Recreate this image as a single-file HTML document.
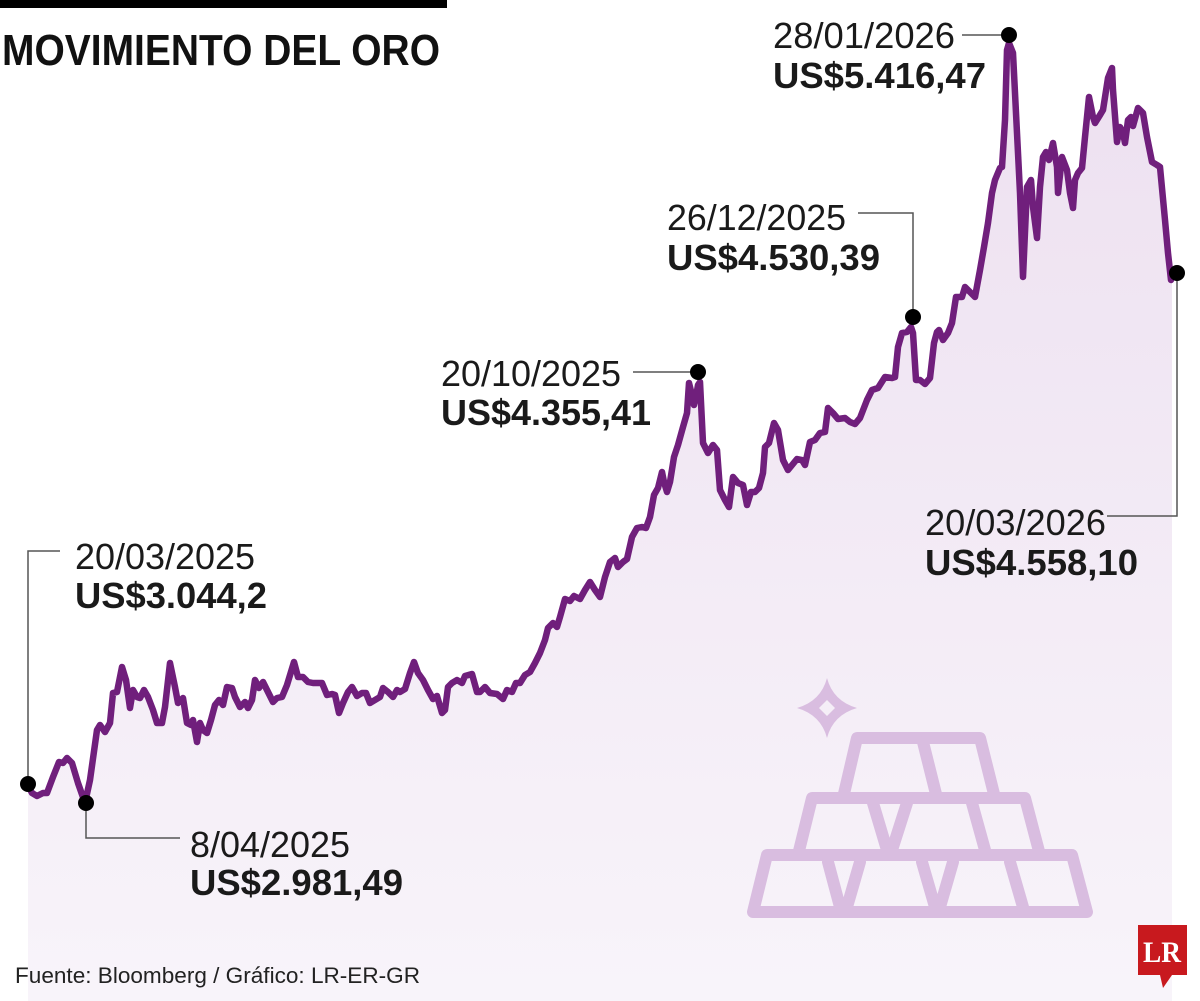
<!DOCTYPE html>
<html><head><meta charset="utf-8"><style>
html,body{margin:0;padding:0;background:#fff;}
svg{display:block;}
text{font-family:"Liberation Sans",sans-serif;}
</style></head><body>
<svg width="1200" height="1001" viewBox="0 0 1200 1001" xmlns="http://www.w3.org/2000/svg">
<defs>
<linearGradient id="g" x1="0" y1="30" x2="0" y2="1001" gradientUnits="userSpaceOnUse">
<stop offset="0" stop-color="#ede0f0"/>
<stop offset="1" stop-color="#f8f4fa"/>
</linearGradient>
</defs>
<rect x="0" y="0" width="1200" height="1001" fill="#fff"/>
<rect x="0" y="0" width="447" height="8" fill="#000"/>
<text x="2" y="65" font-size="44" font-weight="bold" fill="#111" textLength="438" lengthAdjust="spacingAndGlyphs">MOVIMIENTO DEL ORO</text>

<path fill="url(#g)" d="M28,784 L30,789 L32,793 L37,796 L43,793 L47,793 L53,777 L59,762 L63,763 L67,758 L72,763 L78,783 L85,803 L90,780 L97,730 L100,725 L105,732 L110,723 L113,693 L117,692 L122,667 L126,680 L130,708 L133,690 L137,697 L140,698 L144,690 L148,697 L153,710 L157,723 L162,723 L165,707 L170,663 L175,687 L178,703 L183,698 L187,723 L191,725 L193,720 L197,742 L200,723 L203,730 L207,733 L211,720 L215,705 L219,700 L223,705 L227,687 L232,688 L235,697 L240,707 L245,702 L248,708 L252,700 L255,680 L259,688 L263,682 L268,692 L273,702 L277,698 L282,697 L287,685 L294,662 L298,677 L303,677 L308,682 L313,683 L322,683 L327,695 L332,694 L335,695 L339,713 L343,703 L348,692 L352,687 L357,696 L362,693 L366,693 L370,703 L375,700 L380,697 L383,688 L388,692 L393,697 L397,690 L400,692 L405,689 L410,673 L414,662 L418,673 L423,680 L428,690 L433,699 L437,696 L442,713 L445,710 L448,687 L452,683 L457,680 L462,683 L465,676 L472,674 L477,692 L480,692 L485,687 L490,693 L497,694 L503,699 L507,690 L512,692 L516,683 L520,683 L525,675 L530,672 L535,663 L540,653 L545,640 L548,628 L553,623 L557,627 L560,617 L565,599 L570,601 L574,596 L580,599 L585,590 L590,582 L595,590 L600,597 L605,577 L610,562 L615,558 L618,567 L623,562 L627,559 L632,537 L637,528 L642,527 L646,528 L650,517 L654,495 L658,488 L662,472 L664,482 L667,492 L670,482 L674,457 L678,445 L683,427 L687,413 L689,383 L692,395 L694,405 L696,397 L698,385 L700,382 L703,443 L708,453 L713,445 L717,450 L720,490 L725,500 L729,507 L733,477 L738,483 L743,485 L747,505 L751,492 L755,492 L759,488 L763,473 L765,447 L769,443 L774,423 L778,430 L783,460 L788,470 L797,459 L802,460 L805,465 L810,442 L815,440 L820,433 L825,432 L828,408 L833,413 L838,419 L845,418 L850,422 L855,424 L860,418 L867,400 L872,390 L878,388 L885,377 L892,378 L895,377 L898,347 L902,333 L907,332 L911,327 L913,333 L916,380 L920,380 L925,384 L930,378 L934,343 L937,332 L939,330 L943,340 L948,333 L952,323 L956,297 L962,297 L965,287 L970,292 L975,297 L980,270 L984,247 L988,223 L992,193 L995,180 L1000,168 L1002,167 L1005,120 L1007,50 L1009,43 L1013,53 L1017,133 L1020,193 L1023,277 L1027,187 L1031,180 L1033,207 L1037,238 L1040,187 L1043,157 L1046,152 L1049,160 L1053,143 L1057,167 L1058,193 L1062,157 L1067,170 L1070,193 L1073,208 L1075,180 L1078,173 L1082,168 L1085,137 L1089,97 L1093,117 L1095,123 L1100,115 L1103,110 L1108,78 L1112,68 L1113,90 L1117,142 L1120,127 L1123,133 L1125,143 L1128,120 L1131,117 L1133,126 L1138,108 L1143,113 L1147,137 L1152,162 L1157,165 L1160,167 L1165,220 L1168,253 L1172,280 L1172,1001 L28,1001 Z"/>

<!-- gold bars icon -->
<g fill="none" stroke="#d9bde0" stroke-width="12" stroke-linejoin="round" stroke-linecap="round">
<path d="M857,738 L980,738 L995,798 L843,798 Z"/>
<path d="M923,742 L937,798"/>
<path d="M812,798 L1025,798 L1040,855 L798,855 Z"/>
<path d="M873,803 L887,850 M907,803 L892,850 M972,803 L985,850"/>
<path d="M767,855 L1072,855 L1087,912 L753,912 Z"/>
<path d="M828,862 L840,907 M860,862 L847,907 M922,862 L935,907 M953,862 L940,907 M1010,862 L1023,907"/>
</g>
<path fill="#d9bde0" fill-rule="evenodd" d="M827,678 Q833,701 857,708 Q833,715 827,738 Q821,715 797,708 Q821,701 827,678 Z M827,700 L835,708 L827,716 L819,708 Z"/>

<!-- line -->
<path fill="none" stroke="#701f7c" stroke-width="6.5" stroke-linejoin="round" stroke-linecap="round" d="M30,789 L32,793 L37,796 L43,793 L47,793 L53,777 L59,762 L63,763 L67,758 L72,763 L78,783 L85,803 L90,780 L97,730 L100,725 L105,732 L110,723 L113,693 L117,692 L122,667 L126,680 L130,708 L133,690 L137,697 L140,698 L144,690 L148,697 L153,710 L157,723 L162,723 L165,707 L170,663 L175,687 L178,703 L183,698 L187,723 L191,725 L193,720 L197,742 L200,723 L203,730 L207,733 L211,720 L215,705 L219,700 L223,705 L227,687 L232,688 L235,697 L240,707 L245,702 L248,708 L252,700 L255,680 L259,688 L263,682 L268,692 L273,702 L277,698 L282,697 L287,685 L294,662 L298,677 L303,677 L308,682 L313,683 L322,683 L327,695 L332,694 L335,695 L339,713 L343,703 L348,692 L352,687 L357,696 L362,693 L366,693 L370,703 L375,700 L380,697 L383,688 L388,692 L393,697 L397,690 L400,692 L405,689 L410,673 L414,662 L418,673 L423,680 L428,690 L433,699 L437,696 L442,713 L445,710 L448,687 L452,683 L457,680 L462,683 L465,676 L472,674 L477,692 L480,692 L485,687 L490,693 L497,694 L503,699 L507,690 L512,692 L516,683 L520,683 L525,675 L530,672 L535,663 L540,653 L545,640 L548,628 L553,623 L557,627 L560,617 L565,599 L570,601 L574,596 L580,599 L585,590 L590,582 L595,590 L600,597 L605,577 L610,562 L615,558 L618,567 L623,562 L627,559 L632,537 L637,528 L642,527 L646,528 L650,517 L654,495 L658,488 L662,472 L664,482 L667,492 L670,482 L674,457 L678,445 L683,427 L687,413 L689,383 L692,395 L694,405 L696,397 L698,385 L700,382 L703,443 L708,453 L713,445 L717,450 L720,490 L725,500 L729,507 L733,477 L738,483 L743,485 L747,505 L751,492 L755,492 L759,488 L763,473 L765,447 L769,443 L774,423 L778,430 L783,460 L788,470 L797,459 L802,460 L805,465 L810,442 L815,440 L820,433 L825,432 L828,408 L833,413 L838,419 L845,418 L850,422 L855,424 L860,418 L867,400 L872,390 L878,388 L885,377 L892,378 L895,377 L898,347 L902,333 L907,332 L911,327 L913,333 L916,380 L920,380 L925,384 L930,378 L934,343 L937,332 L939,330 L943,340 L948,333 L952,323 L956,297 L962,297 L965,287 L970,292 L975,297 L980,270 L984,247 L988,223 L992,193 L995,180 L1000,168 L1002,167 L1005,120 L1007,50 L1009,43 L1013,53 L1017,133 L1020,193 L1023,277 L1027,187 L1031,180 L1033,207 L1037,238 L1040,187 L1043,157 L1046,152 L1049,160 L1053,143 L1057,167 L1058,193 L1062,157 L1067,170 L1070,193 L1073,208 L1075,180 L1078,173 L1082,168 L1085,137 L1089,97 L1093,117 L1095,123 L1100,115 L1103,110 L1108,78 L1112,68 L1113,90 L1117,142 L1120,127 L1123,133 L1125,143 L1128,120 L1131,117 L1133,126 L1138,108 L1143,113 L1147,137 L1152,162 L1157,165 L1160,167 L1165,220 L1168,253 L1171,280"/>

<!-- leader lines -->
<g fill="none" stroke="#555" stroke-width="1.5">
<path d="M28,784 L28,551 L60,551"/>
<path d="M86,803 L86,838 L180,838"/>
<path d="M633,372 L698,372"/>
<path d="M858,213 L913,213 L913,317"/>
<path d="M962,35 L1009,35"/>
<path d="M1177,273 L1177,516 L1107,516"/>
</g>
<g fill="#000">
<circle cx="28" cy="784" r="8"/>
<circle cx="86" cy="803" r="8"/>
<circle cx="698" cy="372" r="8"/>
<circle cx="913" cy="317" r="8"/>
<circle cx="1009" cy="35" r="8"/>
<circle cx="1177" cy="273" r="8"/>
</g>

<!-- labels -->
<g fill="#1a1a1a" font-size="36">
<text x="75" y="569" textLength="180" lengthAdjust="spacingAndGlyphs">20/03/2025</text>
<text x="75" y="608" font-weight="bold" textLength="192" lengthAdjust="spacingAndGlyphs">US$3.044,2</text>
<text x="190" y="857" textLength="160" lengthAdjust="spacingAndGlyphs">8/04/2025</text>
<text x="190" y="895" font-weight="bold" textLength="213" lengthAdjust="spacingAndGlyphs">US$2.981,49</text>
<text x="441" y="386" textLength="180" lengthAdjust="spacingAndGlyphs">20/10/2025</text>
<text x="441" y="425" font-weight="bold" textLength="210" lengthAdjust="spacingAndGlyphs">US$4.355,41</text>
<text x="667" y="230" textLength="179" lengthAdjust="spacingAndGlyphs">26/12/2025</text>
<text x="667" y="270" font-weight="bold" textLength="213" lengthAdjust="spacingAndGlyphs">US$4.530,39</text>
<text x="773" y="48" textLength="182" lengthAdjust="spacingAndGlyphs">28/01/2026</text>
<text x="773" y="88" font-weight="bold" textLength="213" lengthAdjust="spacingAndGlyphs">US$5.416,47</text>
<text x="925" y="535" textLength="181" lengthAdjust="spacingAndGlyphs">20/03/2026</text>
<text x="925" y="575" font-weight="bold" textLength="213" lengthAdjust="spacingAndGlyphs">US$4.558,10</text>
</g>

<text x="15" y="983" font-size="22" fill="#222" textLength="405" lengthAdjust="spacingAndGlyphs">Fuente: Bloomberg / Gráfico: LR-ER-GR</text>

<!-- LR logo -->
<path fill="#c8191e" d="M1138,925 L1187,925 L1187,975 L1172,975 L1163,988 L1160,975 L1138,975 Z"/>
<text x="1162" y="962" font-size="30" font-weight="bold" fill="#fff" text-anchor="middle" style="font-family:'Liberation Serif',serif" textLength="38" lengthAdjust="spacingAndGlyphs">LR</text>
</svg>
</body></html>
